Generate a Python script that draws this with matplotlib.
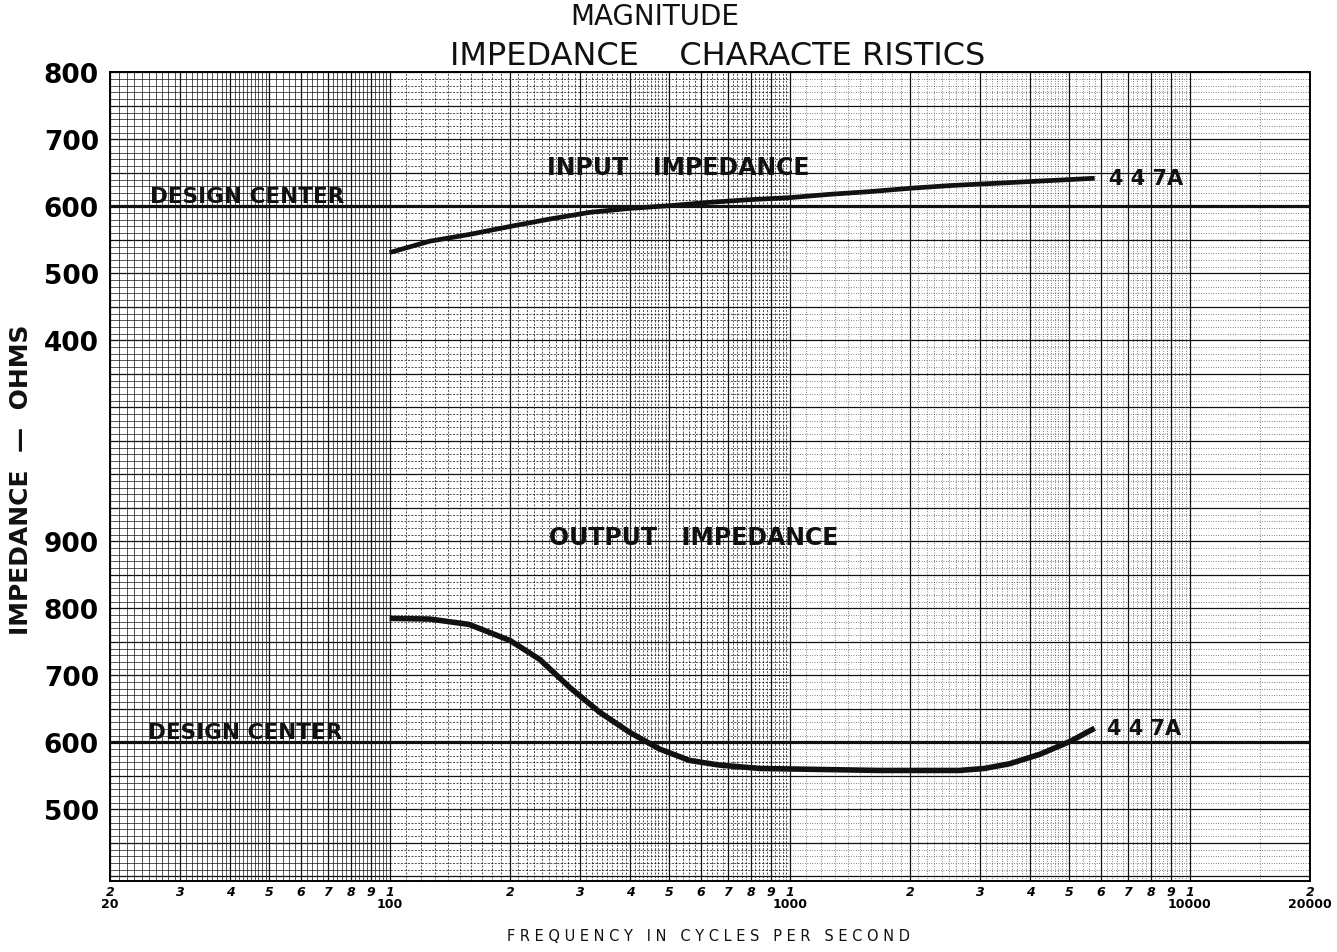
"""Magnitude impedance characteristics of the 447A (graph-paper style)."""

import matplotlib

matplotlib.use("Agg")

import matplotlib.pyplot as plt
import numpy as np

# input impedance (ohms)
input_freq = [100, 126, 158, 200, 251, 316, 398, 501, 631, 794, 1000,
              1260, 1585, 2000, 2512, 3162, 3981, 5012, 5790]
input_ohms = [531, 548, 558, 570, 581, 591, 597, 601, 606, 610, 613,
              618, 622, 627, 631, 634, 637, 640, 642]

# output impedance (ohms)
output_freq = [100, 126, 158, 200, 237, 282, 335, 398, 473, 562, 668,
               841, 1059, 1679, 2661, 3070, 3548, 4217, 5012, 5790]
output_ohms = [785, 784, 776, 752, 724, 682, 645, 615, 590, 573, 566,
               561, 560, 558, 558, 561, 568, 582, 601, 621]

design_center = 600
upper_ticks = [800, 700, 600, 500, 400]
lower_ticks = [900, 800, 700, 600, 500]
LOWER_OFFSET = 800  # lower scale is drawn 800 units below the upper one

decade_labels = [20, 100, 1000, 10000, 20000]

INK = "#111111"


def lower(values):
    return [v - LOWER_OFFSET for v in values]


fig = plt.figure(figsize=(13.37, 9.53), dpi=100)
ax = fig.add_axes([0.0823, 0.0745, 0.8975, 0.8485])
ax.set_xscale("log")
ax.set_xlim(20, 20000)
ax.set_ylim(-407, 800)

# --- graph paper -------------------------------------------------------
styles = {10: "-", 100: (0, (3, 2)), 1000: (0, (1, 2.5)), 10000: (0, (1, 3))}
for decade, ls in styles.items():
    for k in range(1, 10):
        f = k * decade
        if 20 <= f <= 20000:
            ax.axvline(f, color=INK, lw=0.9, zorder=1)
        step = 0.1 if k < 5 else 0.2
        if decade == 10000:
            step = 0.5
        for sub in np.arange(k + step, k + 1 - 1e-9, step):
            fs = sub * decade
            if 20 < fs < 20000:
                ax.axvline(fs, color=INK, lw=0.5, ls=ls, zorder=1)

spans = [(20, 100, "-"), (100, 1000, (0, (3, 2))), (1000, 20000, (0, (1, 2.5)))]
for y in np.arange(-400, 801, 10):
    if y % 50 == 0:
        ax.axhline(y, color=INK, lw=0.9, zorder=1)
    else:
        for x0, x1, ls in spans:
            ax.hlines(y, x0, x1, color=INK, lw=0.5, linestyles=[ls], zorder=1)

# --- curves -------------------------------------------------------------
ax.axhline(design_center, color=INK, lw=2.3, zorder=3)
ax.axhline(design_center - LOWER_OFFSET, color=INK, lw=2.3, zorder=3)
ax.plot(input_freq, input_ohms, color=INK, lw=3.4, solid_capstyle="butt", zorder=4)
ax.plot(output_freq, lower(output_ohms), color=INK, lw=4.0,
        solid_capstyle="butt", zorder=4)

label_kw = dict(color=INK, fontweight="heavy", zorder=5)
ax.text(25.2, 601, "DESIGN CENTER", ha="left", va="bottom", fontsize=15.5, **label_kw)
ax.text(24.9, 601 - LOWER_OFFSET, "DESIGN CENTER", ha="left", va="bottom",
        fontsize=15.5, **label_kw)
ax.text(247, 641, "INPUT   IMPEDANCE", ha="left", va="bottom", fontsize=17, **label_kw)
ax.text(251, 89, "OUTPUT   IMPEDANCE", ha="left", va="bottom", fontsize=17, **label_kw)
ax.text(6300, 642, "4 4 7A", ha="left", va="center", fontsize=15, **label_kw)
ax.text(6200, 622 - LOWER_OFFSET, "4 4 7A", ha="left", va="center", fontsize=15,
        **label_kw)

# --- axes decoration ----------------------------------------------------
ax.set_yticks(upper_ticks + lower(lower_ticks))
ax.set_yticklabels([str(v) for v in upper_ticks + lower_ticks],
                   fontsize=19, fontweight="bold")
ax.tick_params(axis="y", length=0, pad=8)

digit_pos, digit_lab = [], []
for decade in [10, 100, 1000, 10000]:
    for k in range(1, 10):
        f = k * decade
        if 20 <= f <= 20000:
            digit_pos.append(f)
            digit_lab.append(str(k))
ax.set_xticks(digit_pos)
ax.set_xticklabels(digit_lab, fontsize=9, fontweight="bold", style="italic")
ax.xaxis.set_minor_locator(matplotlib.ticker.NullLocator())
ax.tick_params(axis="x", length=0, pad=3)

xtr = ax.get_xaxis_transform()
for f in decade_labels:
    ax.text(f, -0.020, str(f), transform=xtr, ha="center", va="top",
            fontsize=9, fontweight="bold")

for spine in ax.spines.values():
    spine.set_linewidth(1.4)

fig.text(0.0155, 0.497, "IMPEDANCE  —  OHMS", rotation=90, ha="center",
         va="center", fontsize=18, fontweight="bold", color=INK)
fig.text(0.530, 0.017, "F R E Q U E N C Y   I N   C Y C L E S   P E R   S E C O N D",
         ha="center", va="center", fontsize=10.5, color=INK)

fig.text(0.490, 0.982, "MAGNITUDE", ha="center", va="center", fontsize=20,
         color=INK)
fig.text(0.537, 0.941, "IMPEDANCE    CHARACTE RISTICS", ha="center",
         va="center", fontsize=23, color=INK)

fig.savefig("out.png", dpi=100)
